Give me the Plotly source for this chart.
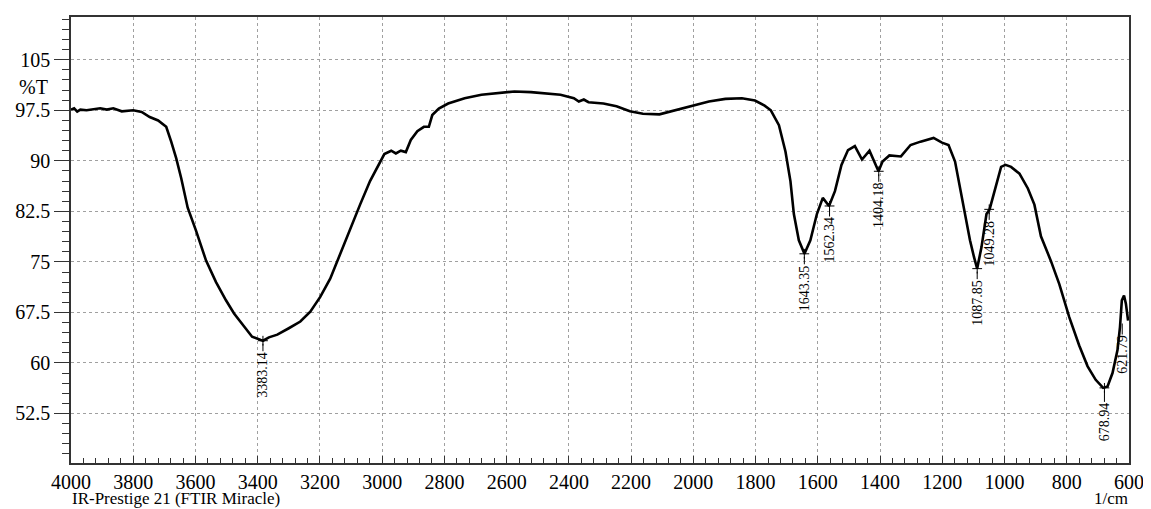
import plotly.graph_objects as go

# Spectrum (wavenumber in 1/cm, %T)
wavenumber = [4000, 3990, 3980, 3970, 3950, 3930, 3906, 3885, 3864, 3837, 3800, 3773, 3747, 3720,
              3694, 3678, 3662, 3646, 3625, 3598, 3566, 3534, 3502, 3476, 3444, 3418, 3390, 3383,
              3364, 3337, 3300, 3263, 3231, 3199, 3167, 3135, 3103, 3071, 3039, 3007, 2993, 2971,
              2956, 2940, 2924, 2908, 2887, 2866, 2850, 2839, 2818, 2788, 2735, 2681, 2628, 2575,
              2522, 2469, 2427, 2384, 2368, 2352, 2337, 2289, 2247, 2204, 2162, 2109, 2056, 2003,
              1950, 1897, 1844, 1802, 1771, 1751, 1725, 1704, 1688, 1677, 1661, 1643, 1624, 1603,
              1584, 1564, 1545, 1524, 1503, 1481, 1458, 1434, 1418, 1405, 1392, 1370, 1333, 1302,
              1270, 1228, 1201, 1180, 1159, 1143, 1127, 1111, 1098, 1088, 1074, 1058, 1048, 1030,
              1011, 997, 979, 952, 925, 904, 883, 851, 824, 792, 760, 733, 707, 683, 669, 653,
              637, 629, 623, 616, 610, 603]
transmittance = [97.6, 97.8, 97.3, 97.6, 97.5, 97.6, 97.8, 97.6, 97.8, 97.35, 97.5, 97.25, 96.5, 96.0,
                 95.05, 92.85, 90.4, 87.45, 83.05, 79.6, 75.2, 72.0, 69.3, 67.35, 65.4, 63.9, 63.4, 63.3,
                 63.8, 64.2, 65.15, 66.15, 67.6, 69.8, 72.5, 76.2, 80.1, 83.5, 87.0, 89.9, 91.0, 91.5,
                 91.1, 91.5, 91.3, 93.1, 94.4, 95.05, 95.05, 96.8, 97.75, 98.5, 99.3, 99.8, 100.1, 100.3,
                 100.2, 99.95, 99.8, 99.3, 98.8, 99.1, 98.7, 98.5, 98.1, 97.35, 97.0, 96.9, 97.5, 98.2,
                 98.8, 99.2, 99.3, 98.95, 98.2, 97.5, 95.3, 91.4, 87.0, 82.1, 78.2, 76.2, 78.2, 82.1,
                 84.5, 83.3, 85.5, 89.4, 91.6, 92.2, 90.2, 91.5, 89.9, 88.45, 89.9, 90.8, 90.65, 92.35,
                 92.85, 93.4, 92.7, 92.35, 89.9, 86.0, 82.1, 78.2, 75.7, 74.0, 77.2, 82.1, 82.8, 86.0,
                 89.1, 89.4, 89.1, 88.1, 85.9, 83.5, 78.8, 75.15, 71.7, 66.8, 62.6, 59.5, 57.5, 56.3, 56.5, 58.5,
                 61.9, 65.3, 69.3, 70.0, 68.8, 66.3]

# Peak annotations
peak_wn = [3383.14, 1643.35, 1562.34, 1404.18, 1087.85, 1049.28, 678.94, 621.79]
peak_T = [63.3, 76.2, 83.3, 88.45, 74.0, 82.8, 56.3, 66.3]
peak_labels = ["3383.14", "1643.35", "1562.34", "1404.18", "1087.85", "1049.28", "678.94", "621.79"]

# Axis ticks
x_ticks = [4000, 3800, 3600, 3400, 3200, 3000, 2800, 2600, 2400, 2200, 2000, 1800, 1600, 1400, 1200, 1000, 800, 600]
x_ticktext = [str(v) for v in x_ticks]
y_ticks = [52.5, 60, 67.5, 75, 82.5, 90, 97.5, 105]
y_ticktext = ["52.5", "60", "67.5", "75", "82.5", "90", "97.5", "105"]

FONT = "Liberation Serif"

fig = go.Figure()
fig.add_trace(go.Scatter(x=wavenumber, y=transmittance, mode="lines",
                         line=dict(color="black", width=2.6), hoverinfo="skip", showlegend=False))
fig.add_trace(go.Scatter(x=peak_wn[:-1], y=peak_T[:-1], mode="markers",
                         marker=dict(symbol="cross-thin", size=7, line=dict(color="black", width=1)),
                         hoverinfo="skip", showlegend=False))

for wn, t, lab in zip(peak_wn, peak_T, peak_labels):
    fig.add_annotation(x=wn, y=t, text=lab, textangle=-90, showarrow=True, arrowhead=0,
                       arrowwidth=1, arrowcolor="black", ax=0, ay=34, standoff=3,
                       font=dict(family=FONT, size=14, color="black"), borderpad=0)

fig.add_annotation(xref="paper", yref="paper", x=-0.02, y=0.844, xanchor="right", yanchor="middle",
                   text="%T", showarrow=False, font=dict(family=FONT, size=20, color="black"))
fig.add_annotation(xref="paper", yref="paper", x=0.0, y=-0.1027, xanchor="left", yanchor="bottom",
                   text="IR-Prestige 21 (FTIR Miracle)", showarrow=False, borderpad=0,
                   font=dict(family=FONT, size=17, color="black"))
fig.add_annotation(xref="paper", yref="paper", x=1.0, y=-0.1027, xanchor="right", yanchor="bottom",
                   text="1/cm", showarrow=False, borderpad=0,
                   font=dict(family=FONT, size=17, color="black"))

fig.update_layout(
    width=1143, height=501,
    margin=dict(l=62, r=14, t=7, b=46),
    paper_bgcolor="white", plot_bgcolor="white",
    font=dict(family=FONT, size=20, color="black"),
    showlegend=False,
)
fig.update_xaxes(range=[4000, 600], tickvals=x_ticks, ticktext=x_ticktext,
                 showgrid=True, gridcolor="#a0a0a0", griddash="dot", gridwidth=1,
                 showline=True, linecolor="#333333", linewidth=1.5, mirror=True,
                 ticks="inside", ticklen=7, tickcolor="#333333", ticklabeloverflow="allow",
                 minor=dict(dtick=40, tick0=0, ticks="inside", ticklen=5, tickcolor="#333333", showgrid=False),
                 zeroline=False, tickfont=dict(family=FONT, size=20))
fig.update_yaxes(range=[45.15, 111.35], tickvals=y_ticks, ticktext=y_ticktext,
                 showgrid=True, gridcolor="#a0a0a0", griddash="dot", gridwidth=1,
                 showline=True, linecolor="#333333", linewidth=1.5, mirror=True,
                 ticks="outside", ticklen=15, tickcolor="#333333",
                 minor=dict(dtick=1.5, tick0=0, ticks="outside", ticklen=7, tickcolor="#333333", showgrid=False),
                 zeroline=False, tickfont=dict(family=FONT, size=20))

fig.write_html("out.html")
